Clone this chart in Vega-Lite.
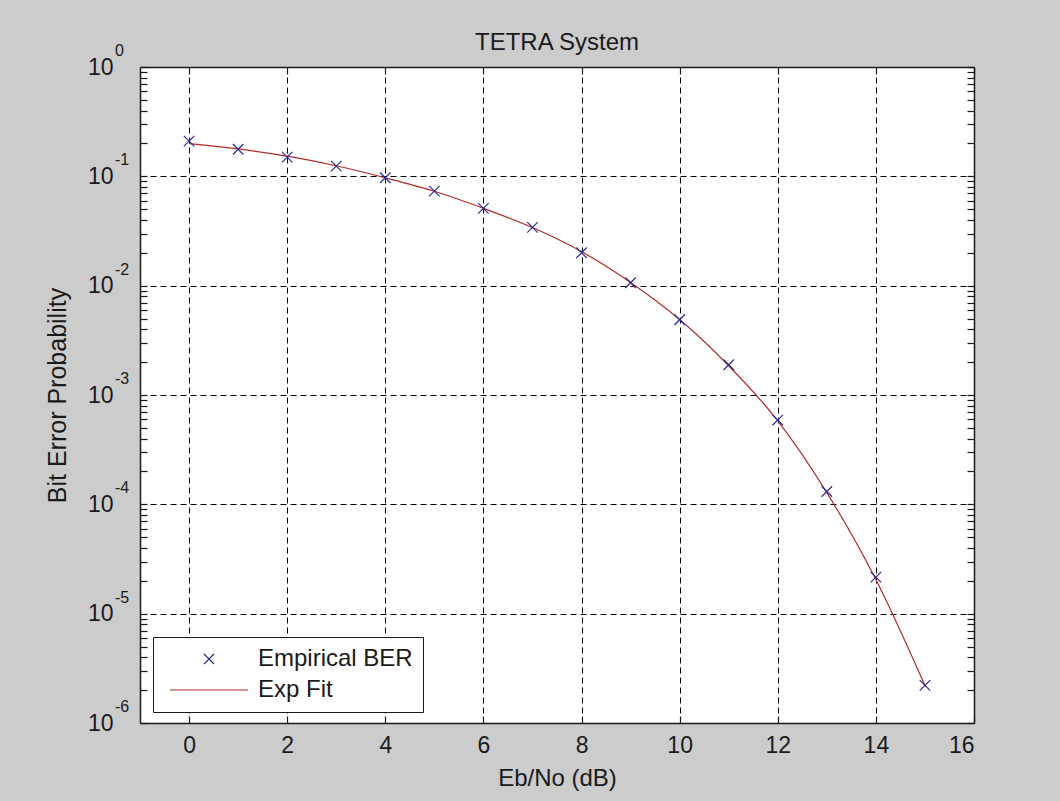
{
  "$schema": "https://vega.github.io/schema/vega-lite/v6.json",
  "width": 834,
  "height": 656,
  "autosize": {"type": "none"},
  "padding": {"left": 140, "top": 67, "right": 86, "bottom": 78},
  "background": "#cccccc",
  "config": {
    "view": {"fill": "white", "stroke": null},
    "font": "Liberation Sans"
  },
  "title": {"text": "TETRA System", "fontSize": 24, "fontWeight": "normal", "color": "#1a1a1a", "font": "Liberation Sans", "offset": 8, "dy": 20, "anchor": "middle"},
  "data": {"values": [
    {"ebno": 0, "ber": 0.21, "series": "Empirical BER"},
    {"ebno": 1, "ber": 0.177, "series": "Empirical BER"},
    {"ebno": 2, "ber": 0.15, "series": "Empirical BER"},
    {"ebno": 3, "ber": 0.124, "series": "Empirical BER"},
    {"ebno": 4, "ber": 0.097, "series": "Empirical BER"},
    {"ebno": 5, "ber": 0.0732, "series": "Empirical BER"},
    {"ebno": 6, "ber": 0.051, "series": "Empirical BER"},
    {"ebno": 7, "ber": 0.0341, "series": "Empirical BER"},
    {"ebno": 8, "ber": 0.020, "series": "Empirical BER"},
    {"ebno": 9, "ber": 0.01064, "series": "Empirical BER"},
    {"ebno": 10, "ber": 0.00488, "series": "Empirical BER"},
    {"ebno": 11, "ber": 0.00189, "series": "Empirical BER"},
    {"ebno": 12, "ber": 0.00059, "series": "Empirical BER"},
    {"ebno": 13, "ber": 0.000131, "series": "Empirical BER"},
    {"ebno": 14, "ber": 0.0000216, "series": "Empirical BER"},
    {"ebno": 15, "ber": 0.00000221, "series": "Empirical BER"},
    {"ebno": 0, "ber": 0.199, "series": "Exp Fit"},
    {"ebno": 1, "ber": 0.178, "series": "Exp Fit"},
    {"ebno": 2, "ber": 0.153, "series": "Exp Fit"},
    {"ebno": 3, "ber": 0.125, "series": "Exp Fit"},
    {"ebno": 4, "ber": 0.097, "series": "Exp Fit"},
    {"ebno": 5, "ber": 0.073, "series": "Exp Fit"},
    {"ebno": 6, "ber": 0.051, "series": "Exp Fit"},
    {"ebno": 7, "ber": 0.034, "series": "Exp Fit"},
    {"ebno": 8, "ber": 0.0205, "series": "Exp Fit"},
    {"ebno": 9, "ber": 0.0107, "series": "Exp Fit"},
    {"ebno": 10, "ber": 0.0049, "series": "Exp Fit"},
    {"ebno": 11, "ber": 0.00185, "series": "Exp Fit"},
    {"ebno": 12, "ber": 0.00058, "series": "Exp Fit"},
    {"ebno": 13, "ber": 0.000128, "series": "Exp Fit"},
    {"ebno": 14, "ber": 0.0000205, "series": "Exp Fit"},
    {"ebno": 15, "ber": 0.0000022, "series": "Exp Fit"}
  ]},
  "layer": [
    {
      "transform": [{"filter": "datum.series === 'Exp Fit'"}],
      "mark": {"type": "line", "strokeWidth": 1.2, "interpolate": "monotone"},
      "encoding": {
        "x": {
          "field": "ebno", "type": "quantitative",
          "scale": {"domain": [-1, 16], "nice": false, "zero": false},
          "axis": {
            "orient": "bottom", "title": "Eb/No (dB)", "values": [0, 2, 4, 6, 8, 10, 12, 14, 16],
            "format": "d", "grid": true, "gridColor": "#000000", "gridDash": [6, 4], "gridWidth": 1,
            "domainColor": "#1a1a1a", "domainWidth": 1.5, "tickColor": "#1a1a1a", "tickSize": -7, "tickWidth": 1.2,
            "labelFontSize": 23, "labelColor": "#1a1a1a", "labelPadding": 18, "labelFont": "Liberation Sans",
            "titleFontSize": 24, "titleFontWeight": "normal", "titleColor": "#1a1a1a", "titleFont": "Liberation Sans",
            "titleY": 55, "titleBaseline": "middle"
          }
        },
        "y": {
          "field": "ber", "type": "quantitative",
          "scale": {"type": "log", "domain": [0.000001, 1], "nice": false},
          "axis": {
            "orient": "left", "title": "Bit Error Probability",
            "values": [0.000001, 0.000002, 0.000003, 0.000004, 0.000005, 0.000006, 0.000007, 0.000008, 0.000009,
                       0.00001, 0.00002, 0.00003, 0.00004, 0.00005, 0.00006, 0.00007, 0.00008, 0.00009,
                       0.0001, 0.0002, 0.0003, 0.0004, 0.0005, 0.0006, 0.0007, 0.0008, 0.0009,
                       0.001, 0.002, 0.003, 0.004, 0.005, 0.006, 0.007, 0.008, 0.009,
                       0.01, 0.02, 0.03, 0.04, 0.05, 0.06, 0.07, 0.08, 0.09,
                       0.1, 0.2, 0.3, 0.4, 0.5, 0.6, 0.7, 0.8, 0.9, 1],
            "labelExpr": "abs(log(datum.value)/LN10 - round(log(datum.value)/LN10)) < 0.001 ? '10' : ''",
            "grid": true, "gridColor": "#000000", "gridDash": [6, 4], "gridWidth": 1,
            "gridOpacity": {"condition": {"test": "abs(log(datum.value)/LN10 - round(log(datum.value)/LN10)) < 0.001", "value": 1}, "value": 0},
            "domainColor": "#1a1a1a", "domainWidth": 1.5, "tickColor": "#1a1a1a", "tickSize": -7, "tickWidth": 1.2,
            "labelFontSize": 23, "labelColor": "#1a1a1a", "labelPadding": 34, "labelFont": "Liberation Sans", "labelBaseline": "middle",
            "labelOverlap": false, "labelFlush": false,
            "titleFontSize": 25, "titleFontWeight": "normal", "titleColor": "#1a1a1a", "titleFont": "Liberation Sans",
            "titleX": -83, "titleY": 328, "titleAngle": -90, "titleAlign": "center", "titleBaseline": "middle"
          }
        },
        "color": {
          "field": "series", "type": "nominal", "title": null,
          "scale": {"domain": ["Empirical BER", "Exp Fit"], "range": ["#2c2c96", "#b32a2a"]},
          "legend": {"orient": "none", "legendX": 13, "legendY": 570, "fillColor": "white", "strokeColor": "#1a1a1a",
                     "padding": 10, "labelFontSize": 24, "labelFont": "Liberation Sans", "labelColor": "#1a1a1a",
                     "symbolSize": 100, "symbolStrokeWidth": 1.2, "symbolOffset": 34, "labelOffset": 37, "rowPadding": 7,
                     "cornerRadius": 0, "symbolFillColor": "transparent"}
        }
      }
    },
    {
      "transform": [{"filter": "datum.series === 'Empirical BER'"}],
      "mark": {"type": "point", "filled": false, "strokeWidth": 1.2, "size": 110, "opacity": 1},
      "encoding": {
        "x": {
          "field": "ebno", "type": "quantitative",
          "scale": {"domain": [-1, 16], "nice": false, "zero": false},
          "axis": {
            "orient": "top", "title": null, "values": [0, 2, 4, 6, 8, 10, 12, 14, 16], "labels": false, "grid": false,
            "domainColor": "#1a1a1a", "domainWidth": 1.5, "tickColor": "#1a1a1a", "tickSize": -7, "tickWidth": 1.2
          }
        },
        "y": {
          "field": "ber", "type": "quantitative",
          "scale": {"type": "log", "domain": [0.000001, 1], "nice": false},
          "axis": {
            "orient": "right", "title": null, "labels": false, "grid": false,
            "values": [0.000001, 0.000002, 0.000003, 0.000004, 0.000005, 0.000006, 0.000007, 0.000008, 0.000009,
                       0.00001, 0.00002, 0.00003, 0.00004, 0.00005, 0.00006, 0.00007, 0.00008, 0.00009,
                       0.0001, 0.0002, 0.0003, 0.0004, 0.0005, 0.0006, 0.0007, 0.0008, 0.0009,
                       0.001, 0.002, 0.003, 0.004, 0.005, 0.006, 0.007, 0.008, 0.009,
                       0.01, 0.02, 0.03, 0.04, 0.05, 0.06, 0.07, 0.08, 0.09,
                       0.1, 0.2, 0.3, 0.4, 0.5, 0.6, 0.7, 0.8, 0.9, 1],
            "domainColor": "#1a1a1a", "domainWidth": 1.5, "tickColor": "#1a1a1a", "tickSize": -7, "tickWidth": 1.2
          }
        },
        "color": {
          "field": "series", "type": "nominal", "title": null,
          "scale": {"domain": ["Empirical BER", "Exp Fit"], "range": ["#2c2c96", "#b32a2a"]},
          "legend": {"orient": "none", "legendX": 13, "legendY": 570, "fillColor": "white", "strokeColor": "#1a1a1a",
                     "padding": 10, "labelFontSize": 24, "labelFont": "Liberation Sans", "labelColor": "#1a1a1a",
                     "symbolSize": 100, "symbolStrokeWidth": 1.2, "symbolOffset": 34, "labelOffset": 37, "rowPadding": 7,
                     "cornerRadius": 0, "symbolFillColor": "transparent"}
        },
        "shape": {
          "field": "series", "type": "nominal", "title": null,
          "scale": {"domain": ["Empirical BER", "Exp Fit"], "range": ["M-1,-1L1,1M-1,1L1,-1", "M-7.8,0L7.8,0"]},
          "legend": {"orient": "none", "legendX": 13, "legendY": 570, "fillColor": "white", "strokeColor": "#1a1a1a",
                     "padding": 10, "labelFontSize": 24, "labelFont": "Liberation Sans", "labelColor": "#1a1a1a",
                     "symbolSize": 100, "symbolStrokeWidth": 1.2, "symbolOffset": 34, "labelOffset": 37, "rowPadding": 7,
                     "cornerRadius": 0, "symbolFillColor": "transparent"}
        }
      }
    },
    {
      "data": {"values": [
        {"tick": 0.000001, "exp": "-6"},
        {"tick": 0.00001, "exp": "-5"},
        {"tick": 0.0001, "exp": "-4"},
        {"tick": 0.001, "exp": "-3"},
        {"tick": 0.01, "exp": "-2"},
        {"tick": 0.1, "exp": "-1"},
        {"tick": 1, "exp": "0"}
      ]},
      "mark": {"type": "text", "align": "left", "baseline": "middle", "dx": -25, "dy": -16, "fontSize": 16, "font": "Liberation Sans", "color": "#1a1a1a"},
      "encoding": {
        "x": {"datum": -1, "type": "quantitative", "axis": null},
        "y": {"field": "tick", "type": "quantitative", "axis": null},
        "text": {"field": "exp"}
      }
    }
  ],
  "resolve": {"axis": {"x": "independent", "y": "independent"}}
}
